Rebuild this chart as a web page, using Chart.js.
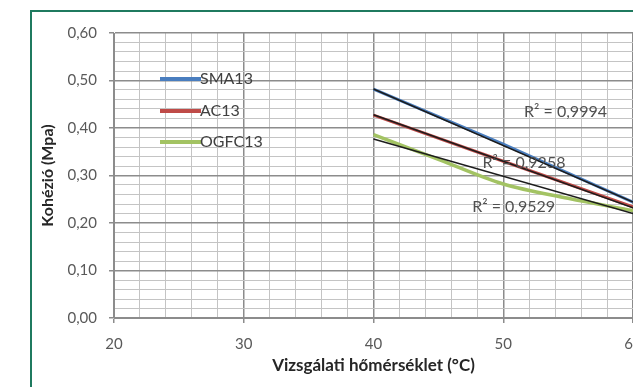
<!DOCTYPE html>
<html>
<head>
<meta charset="utf-8">
<script src="https://cdn.jsdelivr.net/npm/chart.js@4"></script>
<style>
    html, body { margin: 0; padding: 0; background: #fff; overflow: hidden; }
    #wrap { position: relative; width: 633px; height: 387px; overflow: hidden; }
    #frame {
        position: absolute; left: 30px; top: 10px; width: 700px; height: 500px;
        border: 2px solid #1f7a5f; box-sizing: border-box;
    }
    #box { position: absolute; left: 0; top: 0; width: 700px; height: 387px; }
</style>
</head>
<body>
<div id="wrap">
    <div id="frame"></div>
    <div id="box"><canvas id="cohesionChart"></canvas></div>
</div>
<script>
// Kohézió vs. hőmérséklet

const seriesNames = ['SMA13', 'AC13', 'OGFC13'];
const seriesColors = ['#4a7ebf', '#bf4b48', '#a3c363'];

// measured values (temperature °C / cohesion MPa)
const smaTemps = [40, 50, 60];
const smaValues = [0.482, 0.366, 0.244];
const acTemps = [40, 50, 60];
const acValues = [0.427, 0.330, 0.234];
const ogfcTemps = [40, 45, 50, 55, 60];
const ogfcValues = [0.386, 0.334, 0.282, 0.252, 0.226];

// linear trendlines, end points
const trendTemps = [40, 60];
const smaTrend = [0.482, 0.244];
const acTrend = [0.428, 0.232];
const ogfcTrend = [0.377, 0.220];

// R² labels: text and anchor in data units
const r2Texts = ['R\u00b2 = 0,9994', 'R\u00b2 = 0,9258', 'R\u00b2 = 0,9529'];
const r2X = [54.8, 51.6, 50.8];
const r2Y = [0.434, 0.326, 0.234];

const xTitle = 'Vizsgálati hőmérséklet (°C)';
const yTitle = 'Kohézió (Mpa)';

const FONT = 'Lato, "Open Sans", sans-serif';

function toPoints(xs, ys) {
    return xs.map((x, i) => ({ x: x, y: ys[i] }));
}

function isMajor(v, step) {
    const r = v / step;
    return Math.abs(r - Math.round(r)) < 1e-6;
}

// in-plot legend, Excel style
const insideLegend = {
    id: 'insideLegend',
    afterDatasetsDraw(chart) {
        const ctx = chart.ctx;
        ctx.save();
        ctx.font = '16px ' + FONT;
        ctx.fillStyle = '#404040';
        ctx.textBaseline = 'middle';
        const rows = [79, 111, 142];
        seriesNames.forEach((name, i) => {
            ctx.strokeStyle = seriesColors[i];
            ctx.lineWidth = 4;
            ctx.beginPath();
            ctx.moveTo(160, rows[i]);
            ctx.lineTo(201, rows[i]);
            ctx.stroke();
            ctx.fillText(name, 200, rows[i]);
        });
        ctx.restore();
    }
};

// R² text
const r2Labels = {
    id: 'r2Labels',
    afterDatasetsDraw(chart) {
        const ctx = chart.ctx;
        const xs = chart.scales.x;
        const ys = chart.scales.y;
        ctx.save();
        ctx.font = '16px ' + FONT;
        ctx.fillStyle = '#505050';
        ctx.textAlign = 'center';
        ctx.textBaseline = 'middle';
        r2Texts.forEach((t, i) => {
            ctx.fillText(t, xs.getPixelForValue(r2X[i]), ys.getPixelForValue(r2Y[i]));
        });
        ctx.restore();
    }
};

const ctx = document.getElementById('cohesionChart').getContext('2d');

new Chart(ctx, {
    type: 'line',
    data: {
        datasets: [
            { label: 'trend SMA13', data: toPoints(trendTemps, smaTrend), borderColor: '#1c1c1c', borderWidth: 1.5, order: 0 },
            { label: 'trend AC13', data: toPoints(trendTemps, acTrend), borderColor: '#1c1c1c', borderWidth: 1.5, order: 0 },
            { label: 'trend OGFC13', data: toPoints(trendTemps, ogfcTrend), borderColor: '#1c1c1c', borderWidth: 1.5, order: 0 },
            { label: seriesNames[0], data: toPoints(smaTemps, smaValues), borderColor: seriesColors[0], borderWidth: 3, order: 1 },
            { label: seriesNames[1], data: toPoints(acTemps, acValues), borderColor: seriesColors[1], borderWidth: 3, order: 1 },
            { label: seriesNames[2], data: toPoints(ogfcTemps, ogfcValues), borderColor: seriesColors[2], borderWidth: 3.5, cubicInterpolationMode: 'monotone', order: 1 }
        ]
    },
    options: {
        responsive: true,
        maintainAspectRatio: false,
        animation: false,
        layout: { padding: { top: 33, right: 67, left: 34, bottom: 0 } },
        elements: { point: { radius: 0 }, line: { fill: false } },
        plugins: {
            legend: { display: false },
            tooltip: { enabled: false }
        },
        scales: {
            x: {
                type: 'linear',
                min: 20,
                max: 60,
                afterFit: s => { s.height = 69; },
                border: { color: '#8c8c8c', width: 1 },
                grid: {
                    color: c => isMajor(c.tick.value, 10) ? '#8c8c8c' : '#c4c4c4',
                    lineWidth: c => isMajor(c.tick.value, 10) ? 1.5 : 1,
                    tickColor: c => isMajor(c.tick.value, 10) ? '#8c8c8c' : 'rgba(0,0,0,0)',
                    tickLength: 5
                },
                ticks: {
                    stepSize: 2,
                    autoSkip: false,
                    maxRotation: 0,
                    padding: 12,
                    color: '#595959',
                    font: { family: FONT, size: 15 },
                    callback: v => isMajor(v, 10) ? String(v) : ''
                },
                title: {
                    display: true,
                    text: xTitle,
                    color: '#262626',
                    font: { family: FONT, size: 17, weight: 'bold' },
                    padding: { top: 4, bottom: 11 }
                }
            },
            y: {
                min: 0,
                max: 0.6,
                afterFit: s => { s.width = 80; },
                border: { color: '#8c8c8c', width: 1 },
                grid: {
                    color: c => isMajor(c.tick.value, 0.1) ? '#8c8c8c' : '#c4c4c4',
                    lineWidth: c => isMajor(c.tick.value, 0.1) ? 1.5 : 1,
                    tickColor: c => isMajor(c.tick.value, 0.1) ? '#8c8c8c' : 'rgba(0,0,0,0)',
                    tickLength: 5
                },
                ticks: {
                    stepSize: 0.02,
                    autoSkip: false,
                    padding: 12,
                    color: '#595959',
                    font: { family: FONT, size: 15 },
                    callback: v => isMajor(v, 0.1) ? v.toFixed(2).replace('.', ',') : ''
                },
                title: {
                    display: true,
                    text: yTitle,
                    color: '#262626',
                    font: { family: FONT, size: 16, weight: 'bold' },
                    padding: { bottom: 0 }
                }
            }
        }
    },
    plugins: [insideLegend, r2Labels]
});
</script>
</body>
</html>
